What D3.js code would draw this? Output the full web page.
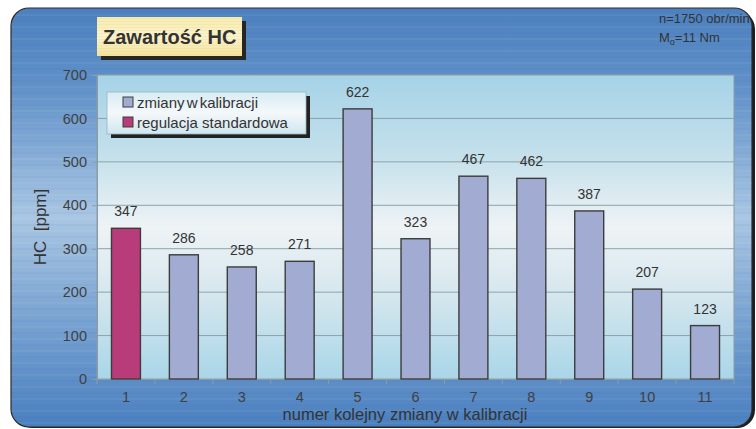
<!DOCTYPE html>
<html>
<head>
<meta charset="utf-8">
<script src="https://cdn.jsdelivr.net/npm/d3@7"></script>
<style>
  html, body { margin: 0; padding: 0; background: #ffffff; }
  svg { display: block; font-family: "Liberation Sans", Arial, sans-serif; }
</style>
</head>
<body>
<svg id="chart" width="756" height="429"></svg>
<script>
// Chart data
const categories = ["1", "2", "3", "4", "5", "6", "7", "8", "9", "10", "11"];
const values = [347, 286, 258, 271, 622, 323, 467, 462, 387, 207, 123];
const seriesOf = ["std", "cal", "cal", "cal", "cal", "cal", "cal", "cal", "cal", "cal", "cal"];
const yTicks = [0, 100, 200, 300, 400, 500, 600, 700];
const legendLabels = ["zmiany w kalibracji", "regulacja standardowa"];
const titleText = "Zawartość HC";
const xTitle = "numer kolejny zmiany w kalibracji";
const yTitle = "HC\u00a0\u00a0[ppm]";

const colors = { cal: "#a2acd3", std: "#b83c79" };
const FONT = "Liberation Sans, Arial, sans-serif";

const svg = d3.select("#chart");
const defs = svg.append("defs");

// Panel background gradient
const pg = defs.append("linearGradient").attr("id", "panelGrad")
  .attr("x1", 0).attr("y1", 0).attr("x2", 0).attr("y2", 1);
pg.append("stop").attr("offset", "0%").attr("stop-color", "#4c80be");
pg.append("stop").attr("offset", "18%").attr("stop-color", "#5f90c8");
pg.append("stop").attr("offset", "50%").attr("stop-color", "#a9c6e3");
pg.append("stop").attr("offset", "82%").attr("stop-color", "#6a98cc");
pg.append("stop").attr("offset", "100%").attr("stop-color", "#4a7fbf");

// Plot area gradient
const ag = defs.append("linearGradient").attr("id", "plotGrad")
  .attr("x1", 0).attr("y1", 0).attr("x2", 0).attr("y2", 1);
ag.append("stop").attr("offset", "0%").attr("stop-color", "#a6d3e7");
ag.append("stop").attr("offset", "25%").attr("stop-color", "#c2dfeb");
ag.append("stop").attr("offset", "50%").attr("stop-color", "#eef3f5");
ag.append("stop").attr("offset", "72%").attr("stop-color", "#d6e7ee");
ag.append("stop").attr("offset", "100%").attr("stop-color", "#a9d6e8");

// Title box gradient
const tg = defs.append("linearGradient").attr("id", "titleGrad")
  .attr("x1", 0).attr("y1", 0).attr("x2", 0).attr("y2", 1);
tg.append("stop").attr("offset", "0%").attr("stop-color", "#f8ecb0");
tg.append("stop").attr("offset", "50%").attr("stop-color", "#fbf3cc");
tg.append("stop").attr("offset", "100%").attr("stop-color", "#f3e39c");

// Legend gradient
const lg = defs.append("linearGradient").attr("id", "legGrad")
  .attr("x1", 0).attr("y1", 0).attr("x2", 0).attr("y2", 1);
lg.append("stop").attr("offset", "0%").attr("stop-color", "#d8ecf4");
lg.append("stop").attr("offset", "50%").attr("stop-color", "#f4f8fa");
lg.append("stop").attr("offset", "100%").attr("stop-color", "#cfe6f0");

const panel = { x: 11, y: 8, w: 741, h: 419, r: 18 };
defs.append("clipPath").attr("id", "panelClip")
  .append("rect").attr("x", panel.x).attr("y", panel.y)
  .attr("width", panel.w).attr("height", panel.h).attr("rx", panel.r);

// Panel shadow and body
svg.append("rect").attr("x", panel.x + 4).attr("y", panel.y + 3)
  .attr("width", panel.w - 1).attr("height", panel.h - 2).attr("rx", panel.r)
  .attr("fill", "#1e1e1e");
svg.append("rect").attr("x", panel.x).attr("y", panel.y)
  .attr("width", panel.w).attr("height", panel.h).attr("rx", panel.r)
  .attr("fill", "url(#panelGrad)").attr("stroke", "#2a2a2a").attr("stroke-width", 1.2);

// Faint horizontal streaks across the panel
const streaks = svg.append("g").attr("clip-path", "url(#panelClip)");
d3.range(panel.y, panel.y + panel.h, 6).forEach((y, i) => {
  streaks.append("rect").attr("x", panel.x).attr("y", y)
    .attr("width", panel.w).attr("height", 2)
    .attr("fill", i % 2 ? "#ffffff" : "#3a6aa8").attr("opacity", 0.05);
});

// Plot area
const plot = { left: 97, right: 734, top: 75, bottom: 379 };
const x = d3.scaleBand().domain(categories)
  .range([plot.left, plot.right]).paddingInner(0.5).paddingOuter(0.25);
const y = d3.scaleLinear().domain([0, 700]).range([plot.bottom, plot.top]);

svg.append("rect").attr("x", plot.left).attr("y", plot.top)
  .attr("width", plot.right - plot.left).attr("height", plot.bottom - plot.top)
  .attr("fill", "url(#plotGrad)").attr("stroke", "#8c9ca6").attr("stroke-width", 1);

// Gridlines
svg.append("g").selectAll("line").data(yTicks.filter(d => d > 0 && d < 700)).join("line")
  .attr("x1", plot.left).attr("x2", plot.right)
  .attr("y1", d => y(d)).attr("y2", d => y(d))
  .attr("stroke", "#8ca2ab").attr("stroke-width", 1);

// Y axis
const yAxis = svg.append("g").attr("transform", `translate(${plot.left},0)`)
  .call(d3.axisLeft(y).tickValues(yTicks).tickSize(5).tickPadding(5));
yAxis.select(".domain").attr("stroke", "#8c9ca6");
yAxis.selectAll(".tick line").attr("stroke", "#8c9ca6");
yAxis.selectAll("text").attr("fill", "#404040").attr("font-size", 14.5)
  .attr("font-family", FONT);

// X axis with ticks at category boundaries
const xAxis = svg.append("g").attr("transform", `translate(0,${plot.bottom})`)
  .call(d3.axisBottom(x).tickSize(0).tickPadding(13));
xAxis.select(".domain").attr("stroke", "#8c9ca6");
xAxis.selectAll("text").attr("fill", "#404040").attr("font-size", 14.5)
  .attr("font-family", FONT);
svg.append("g").selectAll("line").data(d3.range(categories.length + 1)).join("line")
  .attr("x1", i => plot.left + i * x.step())
  .attr("x2", i => plot.left + i * x.step())
  .attr("y1", plot.bottom).attr("y2", plot.bottom + 5)
  .attr("stroke", "#8c9ca6");

// Bars
svg.append("g").selectAll("rect").data(values).join("rect")
  .attr("x", (d, i) => x(categories[i]))
  .attr("y", d => y(d))
  .attr("width", x.bandwidth())
  .attr("height", d => y(0) - y(d))
  .attr("fill", (d, i) => colors[seriesOf[i]])
  .attr("stroke", "#3c3c3c").attr("stroke-width", 1.4);

// Value labels
svg.append("g").selectAll("text").data(values).join("text")
  .attr("x", (d, i) => x(categories[i]) + x.bandwidth() / 2)
  .attr("y", d => y(d) - 12)
  .attr("text-anchor", "middle").attr("font-size", 14).attr("fill", "#333333")
  .text(d => d);

// Axis titles
svg.append("text").attr("x", 405).attr("y", 420).attr("text-anchor", "middle")
  .attr("font-size", 16.5).attr("fill", "#333333").text(xTitle);
svg.append("text").attr("transform", "translate(46,227) rotate(-90)")
  .attr("text-anchor", "middle").attr("font-size", 17).attr("fill", "#333333")
  .text(yTitle);

// Title box
svg.append("rect").attr("x", 101).attr("y", 21).attr("width", 145).attr("height", 39)
  .attr("fill", "#262626");
svg.append("rect").attr("x", 97).attr("y", 17).attr("width", 145).attr("height", 39)
  .attr("fill", "url(#titleGrad)");
const tstripes = svg.append("g");
d3.range(18, 56, 3).forEach(yy => {
  tstripes.append("rect").attr("x", 97).attr("y", yy).attr("width", 145).attr("height", 1)
    .attr("fill", "#e8d48a").attr("opacity", 0.25);
});
svg.append("text").attr("x", 103).attr("y", 44).attr("font-size", 20)
  .attr("font-weight", "bold").attr("fill", "#333333").text(titleText);

// Operating conditions, clipped by the panel edge
const cond = svg.append("g").attr("clip-path", "url(#panelClip)")
  .attr("font-size", 13).attr("fill", "#333333");
cond.append("text").attr("x", 659).attr("y", 23).text("n=1750 obr/min");
const m = cond.append("text").attr("x", 659).attr("y", 42);
m.append("tspan").text("M");
m.append("tspan").attr("font-size", 9).attr("dy", 3).text("o");
m.append("tspan").attr("dy", -3).text("=11 Nm");

// Legend
svg.append("rect").attr("x", 111).attr("y", 96).attr("width", 199).attr("height", 42)
  .attr("fill", "#222222");
svg.append("rect").attr("x", 107).attr("y", 92).attr("width", 199).attr("height", 42)
  .attr("fill", "url(#legGrad)").attr("stroke", "#9ab4c0").attr("stroke-width", 0.8);
const legendKeys = ["cal", "std"];
const leg = svg.append("g").selectAll("g").data(legendLabels).join("g")
  .attr("transform", (d, i) => `translate(123,${102 + i * 20})`);
leg.append("rect").attr("x", 0).attr("y", -5).attr("width", 10).attr("height", 10)
  .attr("fill", (d, i) => colors[legendKeys[i]]).attr("stroke", "#3c3c3c").attr("stroke-width", 1);
leg.append("text").attr("x", 14).attr("y", 5.5).attr("font-size", 15).attr("fill", "#333333")
  .attr("word-spacing", (d, i) => i === 0 ? -2 : 0)
  .text(d => d);
</script>
</body>
</html>
